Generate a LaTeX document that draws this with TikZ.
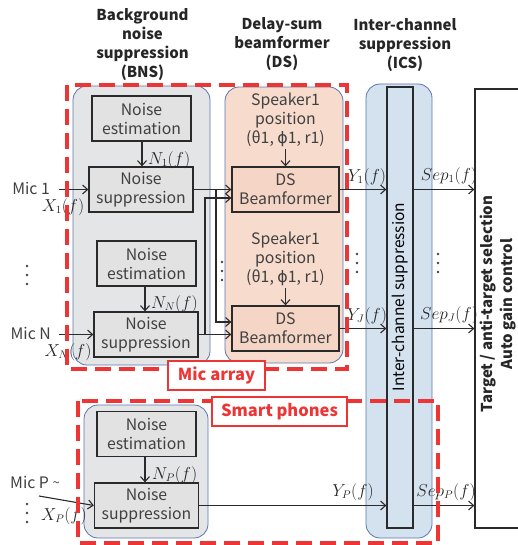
\documentclass[tikz,border=0pt]{standalone}
\usepackage{fontspec}
\setmainfont{Noto Sans CJK JP}
\newfontfamily\phifont{DejaVu Sans}
\usetikzlibrary{arrows.meta}
\definecolor{txtc}{HTML}{404040}
\definecolor{linec}{HTML}{2A2A2A}
\definecolor{greyf}{HTML}{E4E5E7}
\definecolor{boxf}{HTML}{E2E2E2}
\definecolor{pinkf}{HTML}{F7DBCD}
\definecolor{pinkb}{HTML}{F4D5C6}
\definecolor{bluef}{HTML}{D4E1EE}
\definecolor{bordc}{HTML}{5A77AD}
\definecolor{redc}{HTML}{EE3535}
\begin{document}
\begin{tikzpicture}[x=1pt,y=-1pt,
  txt/.style={font=\fontsize{15.8}{19}\selectfont, text=txtc, align=center},
  ttl/.style={font=\bfseries\fontsize{15}{19}\selectfont, text=black!85, align=center},
  procbox/.style={txt, draw=linec, line width=1.3pt, minimum height=45pt, inner sep=0pt},
  nebox/.style={procbox, fill=boxf, minimum width=99pt},
  nsbox/.style={procbox, fill=boxf, minimum width=104pt},
  dsbox/.style={procbox, fill=pinkb, minimum width=107pt},
  grp/.style={draw=bordc, line width=0.8pt, rounded corners=14pt},
  reddash/.style={draw=redc, line width=3.2pt, dash pattern=on 16pt off 8pt},
  redlab/.style={draw=redc, line width=1.2pt, fill=white, text=redc, font=\bfseries\fontsize{16.5}{18}\selectfont, inner sep=0pt},
  arr/.style={-{Straight Barb[length=5pt,width=9pt]}, line width=1.1pt, draw=linec},
  lab/.style={font=\fontsize{16.3}{16}\selectfont, inner sep=0pt, text=black!85},
  dotc/.style={fill=black!75}
]
\useasboundingbox (0,0) rectangle (518,545);

% titles
\node[ttl] (tbns) at (142.5,45) {Background\\noise\\suppression\\(BNS)};
\node[ttl] (tds) at (282,44) {Delay-sum\\beamformer\\(DS)};
\node[ttl] (tics) at (405,45) {Inter-channel\\suppression\\(ICS)};

% group backgrounds
\path[grp, fill=greyf] (73,86) rectangle (210,365);
\path[grp, fill=pinkf] (225,87) rectangle (343,363);
\path[grp, fill=bluef] (366,84) rectangle (432,538);
\path[grp, fill=greyf] (84,405) rectangle (208,538);

% ICS inner column and target box
\node[draw=linec, line width=1.3pt, minimum width=26pt, minimum height=441pt, inner sep=0pt] (ics) at (400,307.5) {};
\node[font=\fontsize{15.5}{19}\selectfont, text=black, rotate=90] (icst) at (400,297) {Inter-channel suppression};
\node[draw=linec, line width=1.3pt, minimum width=70pt, minimum height=439pt, inner sep=0pt] (tgt) at (510,308.5) {};
\node[font=\bfseries\fontsize{15}{20}\selectfont, text=black!85, rotate=90, align=center] (tgtt) at (498,304) {Target / anti-target selection\\Auto gain control};

% BNS boxes
\node[nebox] (ne1) at (141.5,118.5) {Noise\\estimation};
\node[nsbox] (ns1) at (141,189.5) {Noise\\suppression};
\node[nebox] (neN) at (146.5,263.5) {Noise\\estimation};
\node[nsbox] (nsN) at (146,334.5) {Noise\\suppression};
\node[nebox] (neP) at (146.5,434) {Noise\\estimation};
\node[nsbox] (nsP) at (146.5,505.5) {Noise\\suppression};

% DS boxes
\node[txt, inner sep=2pt] (sp1) at (285.5,120) {Speaker1\\position\\(θ1, {\phifont ϕ}1, r1)};
\node[dsbox] (ds1) at (285.5,189.5) {DS\\Beamformer};
\node[txt, inner sep=2pt] (sp2) at (285.5,259) {Speaker1\\position\\(θ1, {\phifont ϕ}1, r1)};
\node[dsbox] (dsJ) at (285.5,328.5) {DS\\Beamformer};

% noise estimate arrows
\draw[arr] (ne1.south -| 142,0) -- (ns1.north -| 142,0);
\draw[arr] (neN.south -| 145,0) -- (nsN.north -| 145,0);
\draw[arr] (neP.south -| 145,0) -- (nsP.north -| 145,0);
\node[lab, anchor=west] (n1) at (148,160) {$N_1(f)$};
\node[lab, anchor=west] (nN) at (151,304) {$N_N(f)$};
\node[lab, anchor=west] (nP) at (152,475) {$N_P(f)$};

\draw[arr] (sp1.south) -- (ds1.north);
\draw[arr] (sp2.south) -- (dsJ.north);

% mics
\node[txt, anchor=east, inner sep=0pt] (mic1) at (50,188) {Mic 1};
\node[txt, anchor=east, inner sep=0pt] (micN) at (51,333.5) {Mic N};
\node[txt, anchor=west, inner sep=0pt] (micP) at (10,482) {Mic P \raisebox{1pt}{\fontsize{13}{13}\selectfont\textasciitilde}};
\coordinate (m1s) at (59,189.5);
\coordinate (mNs) at (59,334.5);
\coordinate (mPs) at (39,496);
\draw[arr] (m1s) -- (ns1.west);
\draw[arr] (mNs) -- (nsN.west);
\draw[arr] (mPs) -- (nsP.west);
\node[lab] (x1) at (63,207) {$X_1(f)$};
\node[lab] (xN) at (68,352) {$X_N(f)$};
\node[lab] (xP) at (64,516) {$X_P(f)$};

% vertical ellipses
\foreach \x/\y in {27/266, 27/504, 222/262, 357/254, 438/254}{
  \fill[dotc] (\x,\y) circle (1.3pt) (\x,\y+9) circle (1.3pt) (\x,\y+18) circle (1.3pt);
}

% wiring BNS -> DS
\coordinate (b1) at (216,189.5);
\coordinate (bN) at (205,334.5);
\draw[arr] (ns1.east) -- (ds1.west);
\draw[arr] (b1) |- ([yshift=6.5pt]dsJ.west);
\draw[arr] (nsN.east) -- (dsJ.west |- nsN.east);
\draw[arr] (bN) |- ([yshift=-8.5pt]ds1.west);

% DS -> ICS -> target
\draw[arr] (ds1.east) -- (ics.west |- ds1.east);
\draw[arr] (dsJ.east) -- (ics.west |- dsJ.east);
\draw[arr] (nsP.east) -- (ics.west |- nsP.east);
\draw[arr] (ics.east |- ds1.east) -- (tgt.west |- ds1.east);
\draw[arr] (ics.east |- dsJ.east) -- (tgt.west |- dsJ.east);
\draw[arr] (ics.east |- nsP.east) -- (tgt.west |- nsP.east);
\node[lab] (y1) at (367,177) {$Y_1(f)$};
\node[lab] (yJ) at (367,316) {$Y_J(f)$};
\node[lab] (yP) at (353,492) {$Y_P(f)$};
\node[lab] (s1) at (449,176) {$Sep_1(f)$};
\node[lab] (sJ) at (449,315) {$Sep_J(f)$};
\node[lab] (sP) at (446,492) {$Sep_P(f)$};

% red dashed groups
\draw[reddash] (67,85) rectangle (347,369);
\draw[reddash] (78,401) rectangle (438,543);
\node[redlab, minimum width=97pt, minimum height=29pt] (lmic) at (216.5,375.5) {Mic array};
\node[redlab, minimum width=135pt, minimum height=29pt] (lsp) at (279.5,411.5) {Smart phones};
\end{tikzpicture}
\end{document}
